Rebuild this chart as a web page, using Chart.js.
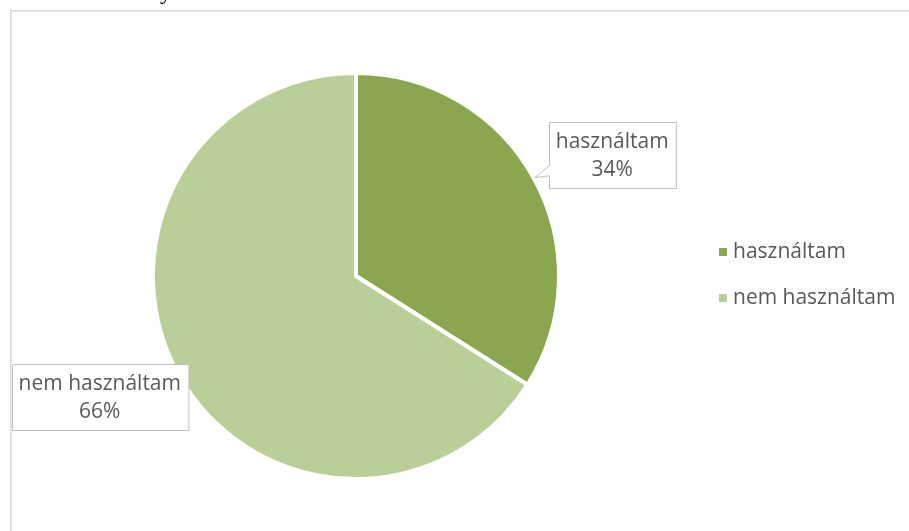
<!DOCTYPE html>
<html>
<head>
<meta charset="utf-8">
<script src="https://cdn.jsdelivr.net/npm/chart.js@4/dist/chart.umd.min.js"></script>
<style>
  html,body{margin:0;padding:0;background:#fff;}
  #wrap{position:relative;width:909px;height:531px;}
</style>
</head>
<body>
<div id="wrap"><canvas id="c" width="909" height="531"></canvas></div>
<script>
const categories = ['használtam', 'nem használtam'];
const values = [34, 66];
const colors = ['#8AA64E', '#BACE97'];

const FONT = '"Open Sans", "Liberation Sans", sans-serif';
const TEXT_COLOR = '#595959';

const framePlugin = {
  id: 'frame',
  beforeDraw(chart) {
    const ctx = chart.ctx;
    ctx.save();
    ctx.strokeStyle = '#D9D9D9';
    ctx.lineWidth = 1.5;
    ctx.beginPath();
    ctx.moveTo(10.75, chart.height);
    ctx.lineTo(10.75, 10.75);
    ctx.lineTo(chart.width, 10.75);
    ctx.stroke();
    // fragment of document text above the chart frame
    ctx.fillStyle = '#000';
    ctx.font = '24px "Liberation Serif", serif';
    ctx.textBaseline = 'alphabetic';
    ctx.fillText('y', 160, -1);
    ctx.restore();
  }
};

const legendPlugin = {
  id: 'sideLegend',
  afterDraw(chart) {
    const ctx = chart.ctx;
    ctx.save();
    ctx.font = '21px ' + FONT;
    ctx.textBaseline = 'middle';
    const x = 719, y0 = 252, step = 46;
    categories.forEach((lab, i) => {
      const y = y0 + i * step;
      ctx.fillStyle = colors[i];
      ctx.fillRect(x, y - 4, 8, 8);
      ctx.fillStyle = TEXT_COLOR;
      ctx.fillText(lab, x + 14, y);
    });
    ctx.restore();
  }
};

const calloutPlugin = {
  id: 'callouts',
  afterDatasetsDraw(chart) {
    const ctx = chart.ctx;
    const meta = chart.getDatasetMeta(0);
    const total = values.reduce((a, b) => a + b, 0);
    ctx.save();
    ctx.font = '21px ' + FONT;
    meta.data.forEach((arc, i) => {
      const p = arc.getProps(['x', 'y', 'startAngle', 'endAngle', 'outerRadius'], true);
      const mid = (p.startAngle + p.endAngle) / 2;
      const la = mid + 3.6 * Math.PI / 180;
      const d = p.outerRadius * 1.395;
      const cx = p.x + Math.cos(la) * d;
      const cy = p.y + Math.sin(la) * d;
      const l1 = categories[i];
      const l2 = Math.round(values[i] / total * 100) + '%';
      const w = Math.max(ctx.measureText(l1).width, ctx.measureText(l2).width) + 14;
      const h = 66;
      const left = Math.round(cx - w / 2) + 0.5, top = Math.round(cy - h / 2) + 0.5;
      const right = left + w, bottom = top + h;
      const tx = p.x + Math.cos(mid) * (p.outerRadius + 1);
      const ty = p.y + Math.sin(mid) * (p.outerRadius + 1);
      ctx.beginPath();
      ctx.moveTo(left, top);
      ctx.lineTo(right, top);
      ctx.lineTo(right, bottom);
      ctx.lineTo(left, bottom);
      if (tx < left && ty > top && ty < bottom + 20) {
        const by = Math.min(Math.max(ty - 2, top + 12), bottom - 10);
        ctx.lineTo(left, by);
        ctx.lineTo(tx, ty);
        ctx.lineTo(left, by - 10);
      }
      ctx.closePath();
      ctx.fillStyle = '#fff';
      ctx.fill();
      ctx.strokeStyle = '#BFBFBF';
      ctx.lineWidth = 1;
      ctx.stroke();
      ctx.fillStyle = TEXT_COLOR;
      ctx.textAlign = 'center';
      ctx.textBaseline = 'middle';
      ctx.fillText(l1, cx, cy - 13);
      ctx.fillText(l2, cx, cy + 15);
    });
    ctx.restore();
  }
};

new Chart(document.getElementById('c'), {
  type: 'pie',
  data: {
    labels: categories,
    datasets: [{
      data: values,
      backgroundColor: colors,
      borderColor: '#ffffff',
      borderWidth: 4,
      hoverOffset: 0
    }]
  },
  options: {
    responsive: false,
    animation: false,
    layout: { padding: { left: 8, right: 205, top: 71, bottom: 50 } },
    plugins: {
      legend: { display: false },
      tooltip: { enabled: false }
    }
  },
  plugins: [framePlugin, calloutPlugin, legendPlugin]
});
</script>
</body>
</html>
